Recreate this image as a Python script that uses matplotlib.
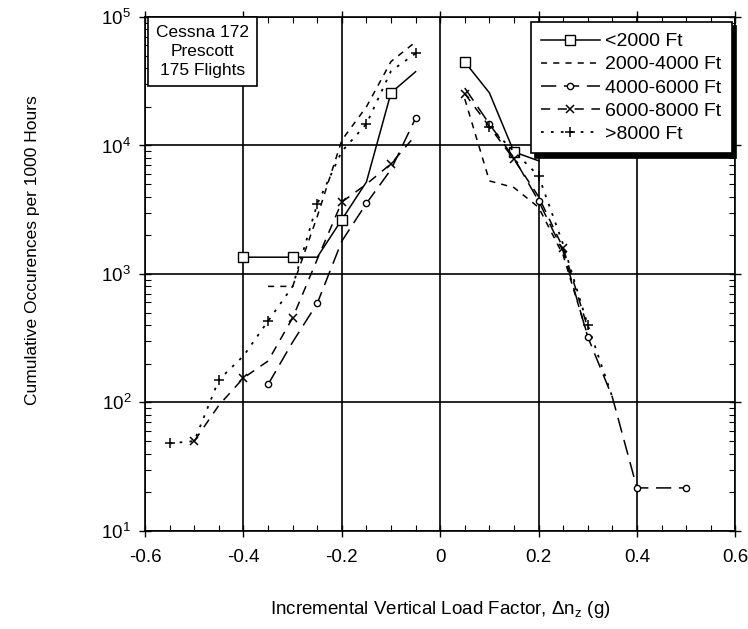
import numpy as np
import matplotlib
matplotlib.use("Agg")
import matplotlib.pyplot as plt
from matplotlib.ticker import MultipleLocator, LogLocator, NullFormatter

plt.rcParams['font.family'] = ['Liberation Sans', 'DejaVu Sans']
plt.rcParams['mathtext.fontset'] = 'custom'
plt.rcParams['mathtext.rm'] = 'Liberation Sans'
plt.rcParams['mathtext.it'] = 'Liberation Sans:italic'
plt.rcParams['mathtext.bf'] = 'Liberation Sans:bold'

# <2000 Ft
x_a_neg = [-0.4, -0.35, -0.3, -0.25, -0.2, -0.15, -0.1, -0.05]
y_a_neg = [1350, 1350, 1350, 1350, 2650, 5200, 25700, 37500]
x_a_pos = [0.05, 0.1, 0.15, 0.2]
y_a_pos = [44700, 25700, 8900, 7600]

# 2000-4000 Ft
x_b_neg = [-0.35, -0.3, -0.25, -0.2, -0.15, -0.1, -0.05]
y_b_neg = [800, 800, 2800, 11000, 20000, 45000, 64000]
x_b_pos = [0.05, 0.1, 0.15, 0.2, 0.25, 0.3]
y_b_pos = [23000, 5300, 4700, 3300, 1400, 330]

# 4000-6000 Ft
x_c_neg = [-0.35, -0.3, -0.25, -0.2, -0.15, -0.1, -0.05]
y_c_neg = [138, 295, 590, 1800, 3540, 6500, 16300]
x_c_pos = [0.05, 0.1, 0.15, 0.2, 0.25, 0.3, 0.35, 0.4, 0.45, 0.5]
y_c_pos = [28000, 14700, 8000, 3700, 1500, 324, 110, 21.6, 21.6, 21.6]

# 6000-8000 Ft
x_d_neg = [-0.5, -0.45, -0.4, -0.35, -0.3, -0.25, -0.2, -0.15, -0.1, -0.05]
y_d_neg = [50, 95, 155, 210, 455, 1300, 3630, 5000, 7200, 12000]
x_d_pos = [0.05, 0.1, 0.15, 0.2, 0.25, 0.3]
y_d_pos = [25300, 14000, 7800, 4000, 1590, 380]

# >8000 Ft
x_e_neg = [-0.55, -0.5, -0.45, -0.4, -0.35, -0.3, -0.25, -0.2, -0.15, -0.1, -0.05]
y_e_neg = [48, 50, 150, 230, 430, 800, 3500, 9000, 14700, 38000, 52000]
x_e_pos = [0.1, 0.15, 0.2, 0.25, 0.3, 0.35]
y_e_pos = [14000, 9000, 5800, 1700, 400, 110]

labels = ['<2000 Ft', '2000-4000 Ft', '4000-6000 Ft', '6000-8000 Ft', '>8000 Ft']

fig = plt.figure(figsize=(7.48, 6.29), dpi=100)
ax = fig.add_axes([0.194, 0.156, 0.789, 0.817])

lw = 1.1
sq = dict(marker='s', ms=6.5, mfc='white', mec='black', mew=1)
ci = dict(marker='o', ms=4.5, mfc='white', mec='black', mew=1)
xm = dict(marker='x', ms=6.3, mec='black', mew=1.1)
pm = dict(marker='+', ms=7, mec='black', mew=1.1)

ax.plot(x_a_neg, y_a_neg, color='black', lw=lw, ls='-', markevery=2, label=labels[0], **sq)
ax.plot(x_a_pos, y_a_pos, color='black', lw=lw, ls='-', markevery=2, **sq)

ax.plot(x_b_neg, y_b_neg, color='black', lw=lw, ls=(0, (4, 4)), label=labels[1])
ax.plot(x_b_pos, y_b_pos, color='black', lw=lw, ls=(0, (4, 4)))

ax.plot(x_c_neg, y_c_neg, color='black', lw=lw, ls=(0, (10, 5)), markevery=2, label=labels[2], **ci)
ax.plot(x_c_pos, y_c_pos, color='black', lw=lw, ls=(0, (10, 5)), markevery=(1, 2), **ci)

ax.plot(x_d_neg, y_d_neg, color='black', lw=lw, ls=(0, (6, 5)), markevery=2, label=labels[3], **xm)
ax.plot(x_d_pos, y_d_pos, color='black', lw=lw, ls=(0, (6, 5)), markevery=2, **xm)

ax.plot(x_e_neg, y_e_neg, color='black', lw=1.3, ls=(0, (1.5, 4)), markevery=2, label=labels[4], **pm)
ax.plot(x_e_pos, y_e_pos, color='black', lw=1.3, ls=(0, (1.5, 4)), markevery=2, **pm)

ax.set_yscale('log')
ax.set_xlim(-0.6, 0.6)
ax.set_ylim(10, 1e5)
ax.set_xticks([-0.6, -0.4, -0.2, 0, 0.2, 0.4, 0.6])
ax.set_xticklabels(['-0.6', '-0.4', '-0.2', '0', '0.2', '0.4', '0.6'])
ax.xaxis.set_minor_locator(MultipleLocator(0.05))
ax.yaxis.set_major_locator(LogLocator(base=10, numticks=10))
ax.yaxis.set_minor_locator(LogLocator(base=10, subs=np.arange(2, 10), numticks=10))
ax.yaxis.set_minor_formatter(NullFormatter())

ax.grid(True, which='major', color='black', lw=1.2)
ax.tick_params(which='major', direction='inout', length=8, width=1, labelsize=13.5,
               top=True, right=True, pad=6)
ax.tick_params(axis='x', which='major', pad=9)
ax.tick_params(which='minor', direction='in', length=4, width=0.8, top=True, right=True)
for s in ax.spines.values():
    s.set_linewidth(1.2)

ax.set_xlabel(r'Incremental Vertical Load Factor, $\Delta$n$_{\mathrm{z}}$ (g)', fontsize=13.5, labelpad=24)
ax.set_ylabel('Cumulative Occurences per 1000 Hours', fontsize=12.5)
ax.yaxis.set_label_coords(-0.178, 0.547)

ax.text(0.0975, 0.985, 'Cessna 172\nPrescott\n175 Flights', transform=ax.transAxes,
        ha='center', va='top', fontsize=12.5, multialignment='center', linespacing=1.35,
        bbox=dict(boxstyle='square,pad=0.45', fc='white', ec='black', lw=1.2), zorder=6)

leg = ax.legend(loc='upper right', bbox_to_anchor=(0.995, 0.99), borderaxespad=0,
                fontsize=14, fancybox=False, framealpha=1, edgecolor='black',
                handlelength=3.0, handletextpad=0.3, labelspacing=0.28, borderpad=0.55,
                shadow={'color': 'black', 'alpha': 1, 'ox': 3, 'oy': -3})
leg.get_frame().set_linewidth(1.2)
leg.set_zorder(10)

fig.savefig('out.png', dpi=100)
